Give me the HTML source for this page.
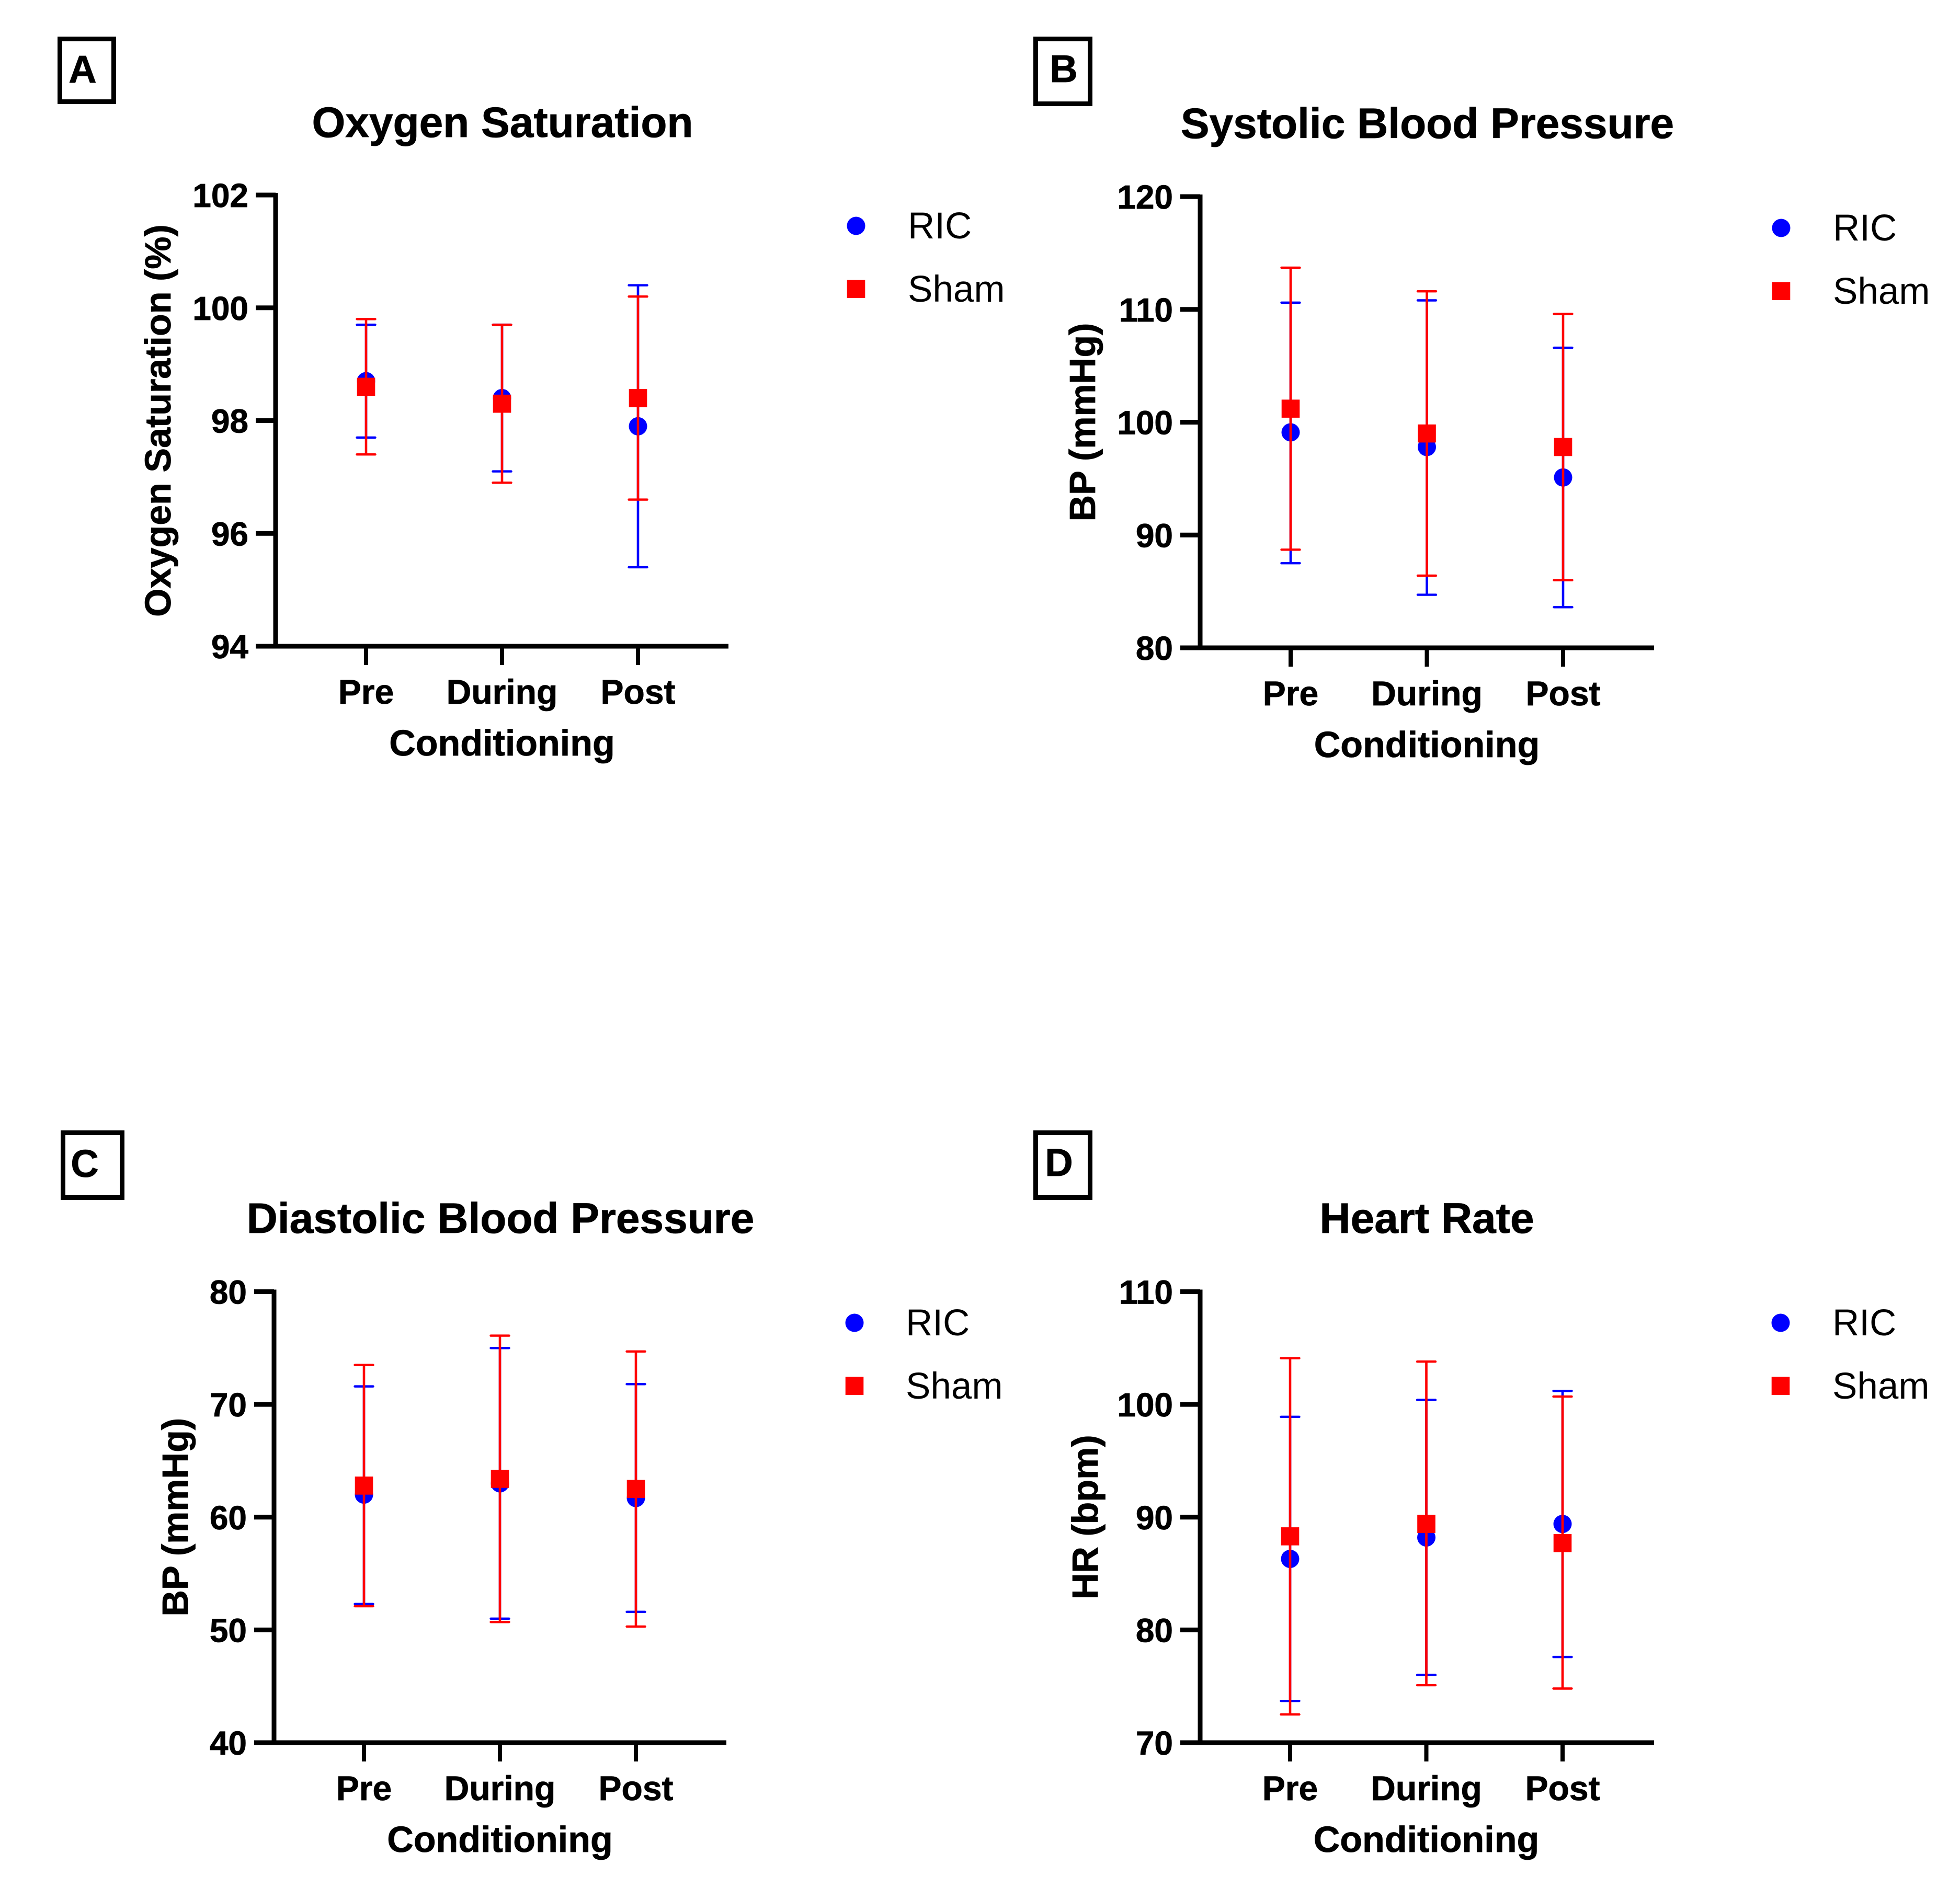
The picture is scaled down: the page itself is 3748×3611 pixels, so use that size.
<!DOCTYPE html>
<html lang="en">
<head>
<meta charset="utf-8">
<title>Conditioning physiological measures</title>
<style>
html,body{margin:0;padding:0;background:#fff;width:3748px;height:3611px;overflow:hidden}
svg{display:block}
text{font-family:"Liberation Sans",Arial,sans-serif;fill:#000}
.b{font-weight:700;stroke:#000;stroke-width:.8px}
</style>
</head>
<body>
<svg id="figure" xmlns="http://www.w3.org/2000/svg" width="3748" height="3611" viewBox="0 0 3748 3611"></svg>
<script>
// ---- Shared chart data ----
const categories = ['Pre', 'During', 'Post'];

// Panel A: Oxygen Saturation
const ticksA = [94, 96, 98, 100, 102];
const ricMeanA = [98.7, 98.4, 97.9];
const ricLowA = [97.7, 97.1, 95.4];
const ricHighA = [99.7, 99.7, 100.4];
const shamMeanA = [98.6, 98.3, 98.4];
const shamLowA = [97.4, 96.9, 96.6];
const shamHighA = [99.8, 99.7, 100.2];

// Panel B: Systolic Blood Pressure
const ticksB = [80, 90, 100, 110, 120];
const ricMeanB = [99.1, 97.8, 95.1];
const ricLowB = [87.5, 84.7, 83.6];
const ricHighB = [110.6, 110.8, 106.6];
const shamMeanB = [101.2, 99.0, 97.8];
const shamLowB = [88.7, 86.4, 86.0];
const shamHighB = [113.7, 111.6, 109.6];

// Panel C: Diastolic Blood Pressure
const ticksC = [40, 50, 60, 70, 80];
const ricMeanC = [62.0, 63.0, 61.7];
const ricLowC = [52.3, 51.0, 51.6];
const ricHighC = [71.6, 75.0, 71.8];
const shamMeanC = [62.8, 63.4, 62.5];
const shamLowC = [52.1, 50.7, 50.3];
const shamHighC = [73.5, 76.1, 74.7];

// Panel D: Heart Rate
const ticksD = [70, 80, 90, 100, 110];
const ricMeanD = [86.3, 88.2, 89.4];
const ricLowD = [73.7, 76.0, 77.6];
const ricHighD = [98.9, 100.4, 101.2];
const shamMeanD = [88.3, 89.4, 87.7];
const shamLowD = [72.5, 75.1, 74.8];
const shamHighD = [104.1, 103.8, 100.7];

const panelA = {
  id: 'a', letter: 'A', title: 'Oxygen Saturation', yTitle: 'Oxygen Saturation (%)',
  ticks: ticksA,
  ric: { mean: ricMeanA, low: ricLowA, high: ricHighA },
  sham: { mean: shamMeanA, low: shamLowA, high: shamHighA },
  frame: { spine: 527, top: 373, bottom: 1236, first: 700, step: 260, right: 1393, titleY: 262, yTitleX: 326,
           legX: 1637, legY: 432, legTextX: 1736, box: [114.5, 74.5, 103, 120], letterX: 158, letterY: 158 }
};
const panelB = {
  id: 'b', letter: 'B', title: 'Systolic Blood Pressure', yTitle: 'BP (mmHg)',
  ticks: ticksB,
  ric: { mean: ricMeanB, low: ricLowB, high: ricHighB },
  sham: { mean: shamMeanB, low: shamLowB, high: shamHighB },
  frame: { spine: 2295, top: 376, bottom: 1239, first: 2468, step: 260.5, right: 3163, titleY: 264, yTitleX: 2094,
           legX: 3406, legY: 436, legTextX: 3505, box: [1980.5, 74.5, 104, 124], letterX: 2034, letterY: 157 }
};
const panelC = {
  id: 'c', letter: 'C', title: 'Diastolic Blood Pressure', yTitle: 'BP (mmHg)',
  ticks: ticksC,
  ric: { mean: ricMeanC, low: ricLowC, high: ricHighC },
  sham: { mean: shamMeanC, low: shamLowC, high: shamHighC },
  frame: { spine: 524, top: 2470.5, bottom: 3333, first: 696, step: 260, right: 1389, titleY: 2358, yTitleX: 359,
           legX: 1634, legY: 2530, legTextX: 1732, box: [120.5, 2166.5, 113, 124], letterX: 162, letterY: 2251 }
};
const panelD = {
  id: 'd', letter: 'D', title: 'Heart Rate', yTitle: 'HR (bpm)',
  ticks: ticksD,
  ric: { mean: ricMeanD, low: ricLowD, high: ricHighD },
  sham: { mean: shamMeanD, low: shamLowD, high: shamHighD },
  frame: { spine: 2295, top: 2470.5, bottom: 3333, first: 2467, step: 260.5, right: 3163, titleY: 2358, yTitleX: 2099,
           legX: 3405, legY: 2530, legTextX: 3504, box: [1980.5, 2166.5, 104, 124], letterX: 2025, letterY: 2249 }
};

const SVGNS = 'http://www.w3.org/2000/svg';
const BLUE = '#0000ff';
const RED = '#ff0000';
const root = document.getElementById('figure');

function make(parent, tag, props, content) {
  const node = document.createElementNS(SVGNS, tag);
  for (const k in props) node.setAttribute(k, props[k]);
  if (content !== undefined) node.textContent = content;
  parent.appendChild(node);
  return node;
}

function makeYScale(ticks, f) {
  const min = ticks[0], max = ticks[ticks.length - 1];
  return v => f.bottom - (v - min) / (max - min) * (f.bottom - f.top);
}
function makeXScale(f) {
  return i => f.first + i * f.step;
}

function drawSeries(g, series, name, color, isSquare, x, y) {
  categories.forEach((cat, i) => {
    const cx = x(i);
    let el = make(g, 'line', { x1: cx, x2: cx, y1: y(series.low[i]), y2: y(series.high[i]), stroke: color, 'stroke-width': 4.6 });
    
    
    el = make(g, 'line', { x1: cx - 17.5, x2: cx + 17.5, y1: y(series.high[i]), y2: y(series.high[i]), stroke: color, 'stroke-width': 4.4, 'stroke-linecap': 'round' });
    
    
    el = make(g, 'line', { x1: cx - 17.5, x2: cx + 17.5, y1: y(series.low[i]), y2: y(series.low[i]), stroke: color, 'stroke-width': 4.4, 'stroke-linecap': 'round' });
    
    
  });
  categories.forEach((cat, i) => {
    const cx = x(i), cy = y(series.mean[i]);
    const el = isSquare
      ? make(g, 'rect', { x: cx - 17.3, y: cy - 17.3, width: 34.6, height: 34.6, fill: color })
      : make(g, 'circle', { cx: cx, cy: cy, r: 17.5, fill: color });
    
    
  });
}

function drawPanel(p) {
  const f = p.frame;
  const x = makeXScale(f);
  const y = makeYScale(p.ticks, f);

  const g = make(root, 'g', {});
  
  

  let el = make(g, 'rect', { x: f.box[0], y: f.box[1], width: f.box[2], height: f.box[3], fill: 'none', stroke: '#000', 'stroke-width': 9 });
  
  

  el = make(g, 'text', { x: f.letterX, y: f.letterY, 'text-anchor': 'middle', 'font-size': 74, class: 'b' }, p.letter);
  
  

  const midX = x(1);
  el = make(g, 'text', { x: midX + 1, y: f.titleY, 'text-anchor': 'middle', 'font-size': 82, class: 'b' }, p.title);
  
  

  // Axes
  el = make(g, 'line', { x1: f.spine, x2: f.spine, y1: f.top - 4, y2: f.bottom + 4, stroke: '#000', 'stroke-width': 9 });
  
  

  el = make(g, 'line', { x1: f.spine - 38, x2: f.right, y1: f.bottom, y2: f.bottom, stroke: '#000', 'stroke-width': 9 });
  
  

  p.ticks.forEach(t => {
    const ty = y(t);
    let n = make(g, 'line', { x1: f.spine - 38, x2: f.spine, y1: ty, y2: ty, stroke: '#000', 'stroke-width': 9 });
    
    
    n = make(g, 'text', { x: f.spine - 52, y: ty + 23, 'text-anchor': 'end', 'font-size': 64, class: 'b' }, String(t));
    
    
  });

  categories.forEach((cat, i) => {
    const tx = x(i);
    let n = make(g, 'line', { x1: tx, x2: tx, y1: f.bottom, y2: f.bottom + 36, stroke: '#000', 'stroke-width': 8 });
    
    
    n = make(g, 'text', { x: tx, y: f.bottom + 110, 'text-anchor': 'middle', 'font-size': 66, class: 'b' }, cat);
    
    
  });

  el = make(g, 'text', { x: midX, y: f.bottom + 209, 'text-anchor': 'middle', 'font-size': 70, class: 'b' }, 'Conditioning');
  
  

  const midY = (f.top + f.bottom) / 2;
  el = make(g, 'text', { x: f.yTitleX, y: midY, 'text-anchor': 'middle', 'font-size': 70, class: 'b', transform: 'rotate(-90 ' + f.yTitleX + ' ' + midY + ')' }, p.yTitle);
  
  

  // Series
  drawSeries(g, p.ric, 'ric', BLUE, false, x, y);
  drawSeries(g, p.sham, 'sham', RED, true, x, y);

  // Legend
  el = make(g, 'circle', { cx: f.legX, cy: f.legY, r: 17.5, fill: BLUE });
  
  

  el = make(g, 'text', { x: f.legTextX, y: f.legY + 24, 'font-size': 71 }, 'RIC');
  
  

  el = make(g, 'rect', { x: f.legX - 17.3, y: f.legY + 120.7 - 17.3, width: 34.6, height: 34.6, fill: RED });
  
  

  el = make(g, 'text', { x: f.legTextX, y: f.legY + 145, 'font-size': 71 }, 'Sham');
  
  
}

[panelA, panelB, panelC, panelD].forEach(drawPanel);
</script>
</body>
</html>
